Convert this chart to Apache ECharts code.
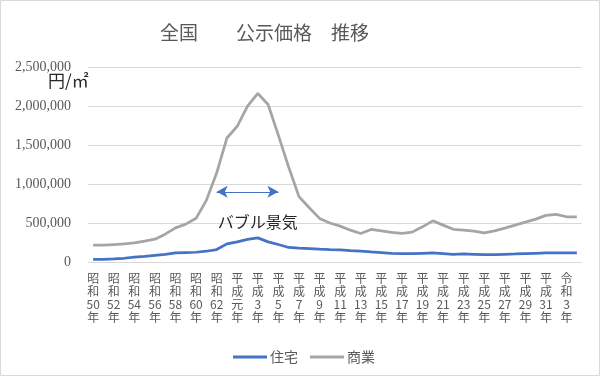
<!DOCTYPE html>
<html>
<head>
<meta charset="utf-8">
<script src="https://cdn.jsdelivr.net/npm/echarts@6/dist/echarts.min.js"></script>
<style>
  body { margin: 0; background: #fff; }
  #main { width: 600px; height: 376px; }
</style>
</head>
<body>
<div id="main"></div>
<script>
// 年 (昭和50年 ～ 令和4年)
const years = [
  '昭和50年','昭和51年','昭和52年','昭和53年','昭和54年','昭和55年','昭和56年','昭和57年',
  '昭和58年','昭和59年','昭和60年','昭和61年','昭和62年','昭和63年',
  '平成元年','平成2年','平成3年','平成4年','平成5年','平成6年','平成7年','平成8年',
  '平成9年','平成10年','平成11年','平成12年','平成13年','平成14年','平成15年','平成16年',
  '平成17年','平成18年','平成19年','平成20年','平成21年','平成22年','平成23年','平成24年',
  '平成25年','平成26年','平成27年','平成28年','平成29年','平成30年','平成31年',
  '令和2年','令和3年','令和4年'
]

// 住宅 (円/㎡)
const jutaku = [
  35000, 35000, 39000, 48000, 61000, 73000, 86000, 99000, 116000, 121000,
  125000, 138000, 160000, 232000, 258000, 289000, 309000, 258000, 224000, 186000,
  177000, 173000, 164000, 158000, 155000, 146000, 138000, 129000, 121000, 112000,
  108000, 108000, 112000, 116000, 108000, 99000, 103000, 99000, 95000, 95000,
  99000, 103000, 108000, 112000, 116000, 116000, 116000, 116000
]

// 商業 (円/㎡)
const shogyo = [
  215000, 216000, 224000, 232000, 245000, 267000, 292000, 357000, 438000, 486000,
  560000, 790000, 1140000, 1590000, 1740000, 1998000, 2161000, 2019000, 1624000, 1216000,
  838000, 696000, 559000, 500000, 460000, 408000, 366000, 417000, 400000, 379000,
  366000, 383000, 451000, 528000, 473000, 419000, 408000, 396000, 374000, 400000,
  434000, 473000, 511000, 550000, 598000, 611000, 580000, 580000
]

// バブル景気の矢印 (開始年, 終了年, 高さ)
const bubbleFrom = '昭和62年'
const bubbleTo = '平成5年'
const bubbleArrowY = 900000
const bubbleLabelAt = ['平成3年', 510000]

const jp = '"Noto Sans CJK JP", sans-serif'

// 縦書き風: 1文字ずつ改行 (数字はまとめる)
const vertical = (s) => (s.match(/\d+|./g) || []).join('\n')

const myChart = echarts.init(document.getElementById('main'))

myChart.setOption({
  animation: false,
  title: {
    text: '全国　　公示価格　推移',
    left: 155,
    top: 18,
    textStyle: { fontFamily: jp, fontSize: 19, fontWeight: 'normal', color: '#595959' }
  },
  legend: {
    left: 228,
    top: 345,
    icon: 'rect',
    itemWidth: 34,
    itemHeight: 3,
    itemGap: 12,
    textStyle: { fontFamily: jp, fontSize: 14, color: '#595959', padding: [0, 0, 0, -2] },
    data: ['住宅', '商業']
  },
  grid: { left: 88, right: 18, top: 67, bottom: 114 },
  xAxis: {
    type: 'category',
    data: years,
    axisLine: { lineStyle: { color: '#D9D9D9' } },
    axisTick: { show: false },
    axisLabel: {
      interval: 1,
      margin: 10,
      fontFamily: jp,
      fontSize: 12,
      lineHeight: 13,
      color: '#595959',
      formatter: vertical
    }
  },
  yAxis: {
    type: 'value',
    min: 0,
    max: 2500000,
    interval: 500000,
    axisLine: { show: false },
    axisTick: { show: false },
    splitLine: { lineStyle: { color: '#D9D9D9' } },
    axisLabel: {
      margin: 17,
      fontFamily: '"Liberation Serif", serif',
      fontSize: 14,
      color: '#595959',
      formatter: (v) => v.toLocaleString('en-US')
    }
  },
  graphic: [
    {
      type: 'rect',
      shape: { x: 0.5, y: 0.5, width: 599, height: 375 },
      style: { fill: 'none', stroke: '#D9D9D9', lineWidth: 1 },
      silent: true
    },
    {
      type: 'text',
      left: 48,
      top: 72,
      style: { text: '円/㎡', fontFamily: jp, fontSize: 17, fill: '#262626' }
    }
  ],
  series: [
    {
      name: '住宅',
      type: 'line',
      data: jutaku,
      symbol: 'none',
      lineStyle: { width: 2.75, color: '#4472C4' },
      itemStyle: { color: '#4472C4' }
    },
    {
      name: '商業',
      type: 'line',
      data: shogyo,
      symbol: 'none',
      lineStyle: { width: 2.75, color: '#A5A5A5' },
      itemStyle: { color: '#A5A5A5' },
      markLine: {
        silent: true,
        symbol: ['arrow', 'arrow'],
        symbolSize: [9, 11],
        label: { show: false },
        lineStyle: { color: '#4472C4', width: 1, type: 'solid' },
        data: [[
          { coord: [bubbleFrom, bubbleArrowY] },
          { coord: [bubbleTo, bubbleArrowY] }
        ]]
      },
      markPoint: {
        silent: true,
        symbol: 'circle',
        symbolSize: 1,
        itemStyle: { color: 'rgba(0,0,0,0)' },
        label: {
          show: true,
          position: 'inside',
          formatter: 'バブル景気',
          fontFamily: jp,
          fontSize: 16,
          color: '#262626'
        },
        data: [{ coord: bubbleLabelAt }]
      }
    }
  ]
})
</script>
</body>
</html>
